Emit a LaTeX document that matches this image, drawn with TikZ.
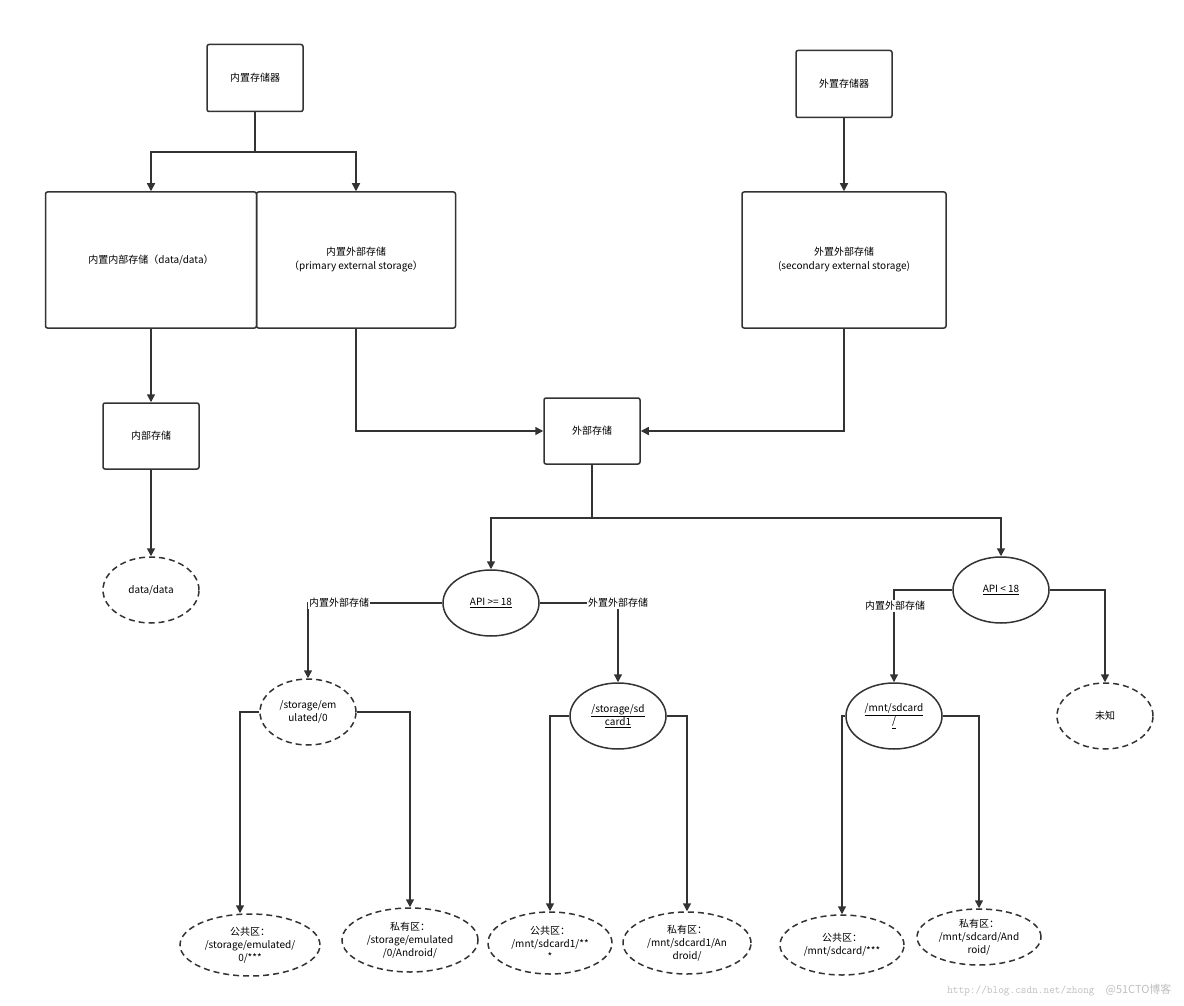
\documentclass[tikz,border=0pt]{standalone}
\usepackage{fontspec}
\setmainfont{Noto Sans CJK SC}
\usetikzlibrary{shapes.geometric,arrows.meta,calc}
\definecolor{ln}{HTML}{333333}
\tikzset{
  box/.style={draw=ln,line width=1.5pt,rounded corners=2pt,align=center,font=\fontsize{10}{14}\selectfont,inner sep=0pt},
  ell/.style={draw=ln,line width=1.5pt,ellipse,align=center,font=\fontsize{10}{13}\selectfont,inner sep=0pt},
  dsh/.style={dash pattern=on 6pt off 4pt},
  arr/.style={draw=ln,line width=1.5pt,-{Triangle[length=8pt,width=8pt]}},
  lbl/.style={fill=white,font=\fontsize{10}{12}\selectfont,inner sep=1pt}
}
\begin{document}
\begin{tikzpicture}[x=1pt,y=-1pt]
\useasboundingbox[fill=white] (0,0) rectangle (1184,1006);
\node[box,minimum width=96,minimum height=67] (nz) at (255,78) {内置存储器};
\node[box,minimum width=96,minimum height=67] (wz) at (844,84) {外置存储器};
\node[box,minimum width=211,minimum height=136] (nn) at (151,260) {内置内部存储（data/data）};
\node[box,minimum width=199,minimum height=136] (nw) at (356,260) {内置外部存储\\（primary external storage）};
\node[box,minimum width=204,minimum height=136] (ww) at (844,260) {外置外部存储\\(secondary external storage)};
\node[box,minimum width=96,minimum height=66] (nb) at (151,436) {内部存储};
\node[box,minimum width=96,minimum height=66] (wb) at (592,431) {外部存储};
\node[ell,dsh,minimum width=96,minimum height=66] (dd) at (151,590) {data/data};
\node[ell,minimum width=96,minimum height=66] (a1) at (491,603) {\underline{API >= 18}};
\node[ell,minimum width=96,minimum height=66] (a2) at (1001,590) {\underline{API < 18}};
\node[ell,dsh,minimum width=96,minimum height=66] (em) at (308,712) {/storage/em\\ulated/0};
\node[ell,minimum width=96,minimum height=66] (sd) at (618,716) {\underline{/storage/sd}\\\underline{card1}};
\node[ell,minimum width=96,minimum height=66] (mn) at (894,716) {\underline{/mnt/sdcard}\\\underline{/}};
\node[ell,dsh,minimum width=96,minimum height=66] (wzh) at (1105,716) {未知};
\node[ell,dsh,minimum width=140,minimum height=62] (b1) at (250,945) {公共区：\\/storage/emulated/\\0/***};
\node[ell,dsh,minimum width=136,minimum height=64] (b2) at (410,940) {私有区：\\/storage/emulated\\/0/Android/};
\node[ell,dsh,minimum width=124,minimum height=62] (b3) at (550,943) {公共区：\\/mnt/sdcard1/**\\*};
\node[ell,dsh,minimum width=128,minimum height=62] (b4) at (687,943) {私有区：\\/mnt/sdcard1/An\\droid/};
\node[ell,dsh,minimum width=124,minimum height=60] (b5) at (842,945) {公共区：\\/mnt/sdcard/***};
\node[ell,dsh,minimum width=124,minimum height=56] (b6) at (979,937) {私有区：\\/mnt/sdcard/And\\roid/};
% connectors
\draw[arr] (nz.south) -- (255,152) -| (nn.north);
\draw[arr] (nz.south) -- (255,152) -| (nw.north);
\draw[arr] (wz.south) -- (ww.north);
\draw[arr] (nn.south) -- (nb.north);
\draw[arr] (nb.south) -- (dd.north);
\draw[arr] (nw.south) |- (wb.west);
\draw[arr] (ww.south) |- (wb.east);
\draw[arr] (wb.south) -- (592,518) -| (a1.north);
\draw[arr] (wb.south) -- (592,518) -| (a2.north);
\draw[arr] (a1.west) -| (em.north);
\node[lbl] (l1) at (339,603) {内置外部存储};
\draw[arr] (a1.east) -| (sd.north) node[lbl,pos=0.5] {外置外部存储};
\draw[arr] (a2.west) -| (mn.north);
\node[lbl] (l3) at (895,606) {内置外部存储};
\draw[arr] (a2.east) -| (wzh.north);
\draw[arr] (em.west) -| ($(b1.north)+(-10,0)$);
\draw[arr] (em.east) -| (b2.north);
\draw[arr] (sd.west) -| (b3.north);
\draw[arr] (sd.east) -| (b4.north);
\draw[arr] (mn.west) -| (b5.north);
\draw[arr] (mn.east) -| (b6.north);
\node[text=black!25,font=\fontsize{11}{12}\selectfont,anchor=east] (wm) at (1175,990) {{\ttfamily http://blog.csdn.net/zhong}\quad @51CTO博客};
\end{tikzpicture}
\end{document}
